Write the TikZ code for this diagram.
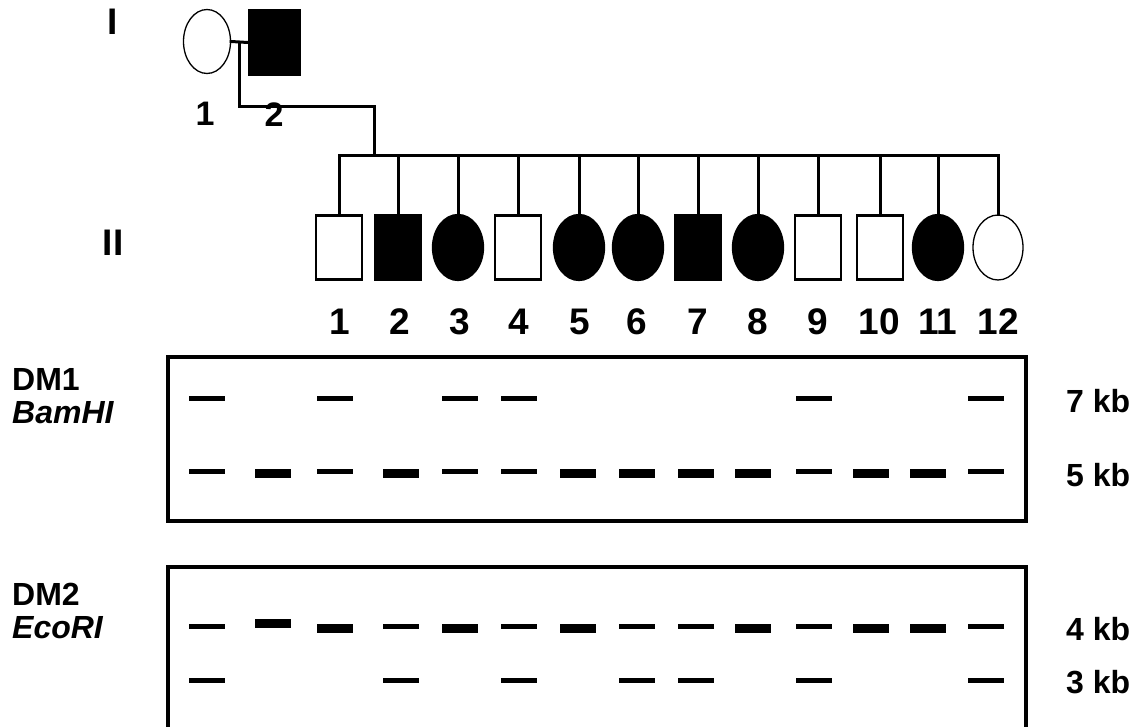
\documentclass[tikz,border=0pt]{standalone}
\usepackage{fontspec}
\setmainfont{Liberation Sans}
\usetikzlibrary{shapes.geometric}
\begin{document}
\begin{tikzpicture}[x=1pt,y=-1pt,
  ped/.style={line width=3pt, line cap=rect},
  opensq/.style={rectangle, draw, line width=2.5pt, fill=white, minimum width=46pt, minimum height=64pt, inner sep=0pt},
  fullsq/.style={rectangle, draw, line width=2.5pt, fill=black, minimum width=46pt, minimum height=64pt, inner sep=0pt},
  opencirc/.style={ellipse, draw, line width=1.3pt, fill=white, minimum width=50pt, minimum height=65pt, inner sep=0pt},
  fullcirc/.style={ellipse, draw, line width=1.3pt, fill=black, minimum width=51pt, minimum height=66pt, inner sep=0pt},
  num/.style={font=\fontsize{37}{37}\selectfont\bfseries, inner sep=0pt},
  pnum/.style={font=\fontsize{34}{34}\selectfont\bfseries, inner sep=0pt},
  lab/.style={font=\fontsize{32}{32}\selectfont\bfseries, inner sep=0pt, anchor=west},
  ilab/.style={font=\fontsize{32}{32}\selectfont\bfseries\itshape, inner sep=0pt, anchor=west},
  gel/.style={line width=4.5pt},
  thinband/.style={rectangle, fill=black, minimum width=36pt, minimum height=5pt, inner sep=0pt},
  thickband/.style={rectangle, fill=black, minimum width=36pt, minimum height=9pt, inner sep=0pt}]
\clip (0,0) rectangle (1138,727);
\fill[white] (0,0) rectangle (1138,727);

% generation labels
\node[num] (genI) at (113,22) {I};
\node[num] (genII) at (113,243) {II};

% parents
\node[opencirc, minimum width=47pt, minimum height=64pt] (p1) at (207,41.5) {};
\node[fullsq, minimum width=51pt, minimum height=65pt] (p2) at (274.5,42.5) {};
\node[pnum] (n1) at (205,114) {1};
\node[pnum] (n2) at (274,115) {2};
\coordinate (m) at (239.5,42.5);
\coordinate (d) at (374,107);
\coordinate (s) at (374,156);
\draw[ped] (p1.east) -- (p2.west);
\draw[ped] (m) |- (d) -- (s);

% children
\node[opensq]   (c1)  at (339,247.5) {};
\node[fullsq]   (c2)  at (398,247.5) {};
\node[fullcirc] (c3)  at (458,247.5) {};
\node[opensq]   (c4)  at (518,247.5) {};
\node[fullcirc] (c5)  at (579,247.5) {};
\node[fullcirc] (c6)  at (638,247.5) {};
\node[fullsq]   (c7)  at (698,247.5) {};
\node[fullcirc] (c8)  at (758,247.5) {};
\node[opensq]   (c9)  at (818,247.5) {};
\node[opensq]   (c10) at (880,247.5) {};
\node[fullcirc] (c11) at (938,247.5) {};
\node[opencirc] (c12) at (998,247.5) {};
\draw[ped] (c1.north |- s) -- (c12.north |- s);
\foreach \i in {1,...,12} {\draw[ped] (c\i.north) -- (c\i.north |- s);}

\foreach \i/\x in {1/340,2/400,3/460,4/519,5/580,6/637,7/698,8/758,9/818,10/879,11/938,12/998}
  {\node[num] (k\i) at (\x,322) {\i};}

% gel 1
\draw[gel] (168,357) rectangle (1026,521);
\node[lab] (dm1) at (12,379) {DM1};
\node[ilab] (bam) at (12,413) {BamHI};
\node[lab] (kb7) at (1066,401) {7 kb};
\node[lab] (kb5) at (1066,475) {5 kb};
\foreach \x [count=\j] in {207,335,460,519,814,986}
  {\node[thinband] (ga\j) at (\x,398) {};
   \node[thinband] (gb\j) at (\x,471) {};}
\foreach \x [count=\j] in {273,401,578,637,696,753,871,928}
  {\node[thickband] (gc\j) at (\x,473.5) {};}

% gel 2
\draw[gel] (168,740) -- (168,567) -- (1026,567) -- (1026,740);
\node[lab] (dm2) at (12,594) {DM2};
\node[ilab] (eco) at (12,628) {EcoRI};
\node[lab] (kb4) at (1066,629) {4 kb};
\node[lab] (kb3) at (1066,682) {3 kb};
\foreach \x [count=\j] in {207,401,519,637,696,814,986}
  {\node[thinband] (ha\j) at (\x,626) {};
   \node[thinband] (hb\j) at (\x,680.5) {};}
\foreach \x [count=\j] in {335,460,578,753,871,928}
  {\node[thickband] (hc\j) at (\x,628.5) {};}
\node[thickband] (hd1) at (273,623.5) {};
\end{tikzpicture}
\end{document}
